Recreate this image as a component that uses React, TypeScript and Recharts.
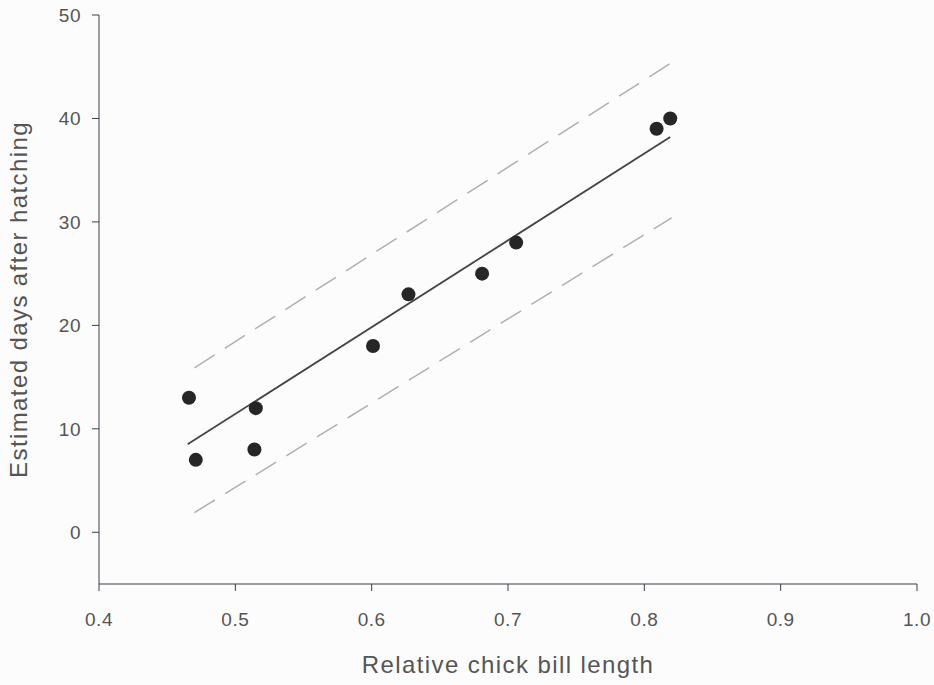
import React from "react";
import {
  ComposedChart, Scatter, Line, XAxis, YAxis,
} from "recharts";

// observed chicks
const billLength = [0.466, 0.471, 0.515, 0.514, 0.601, 0.627, 0.681, 0.706, 0.809, 0.819];
const daysAfterHatching = [13, 7, 12, 8, 18, 23, 25, 28, 39, 40];

// fitted line and prediction band ends
const fitX = [0.465, 0.819];
const fitY = [8.5, 38.2];
const upperY = [15.9, 45.4];
const lowerY = [1.9, 30.4];
const bandX = [0.470, 0.820];

const xTicks = [0.4, 0.5, 0.6, 0.7, 0.8, 0.9, 1.0];
const yTicks = [0, 10, 20, 30, 40, 50];

const points = billLength.map((x, i) => ({ x, y: daysAfterHatching[i] }));
const fitLine = fitX.map((x, i) => ({ x, y: fitY[i] }));
const upperLine = bandX.map((x, i) => ({ x, y: upperY[i] }));
const lowerLine = bandX.map((x, i) => ({ x, y: lowerY[i] }));

const AXIS = "#3c3c48";
const TEXT = "#555";
const FONT = "Liberation Sans, Arial, sans-serif";
const tickStyle = { fontSize: 19, fill: TEXT, fontFamily: FONT, letterSpacing: 0.5 };
const labelStyle = { fontSize: 24, fill: TEXT, fontFamily: FONT, letterSpacing: 1.4 };

const Dot = (props: any) => {
  const { cx, cy } = props;
  return <circle cx={cx} cy={cy} r={7} fill="#262626" />;
};

export default function App() {
  return (
    <div style={{ position: "absolute", left: 0, top: 0, width: 934, height: 685, background: "#fcfcfc" }}>
      <ComposedChart width={934} height={685} margin={{ top: 15, right: 17, bottom: 0, left: 0 }}>
        <XAxis
          type="number"
          dataKey="x"
          domain={[0.4, 1.0]}
          ticks={xTicks}
          tickFormatter={(v) => Number(v).toFixed(1)}
          tick={tickStyle}
          tickSize={7}
          tickMargin={22}
          height={101}
          stroke={AXIS}
          allowDataOverflow
          label={{ value: "Relative chick bill length", position: "insideBottom", offset: 12, style: labelStyle }}
        />
        <YAxis
          type="number"
          dataKey="y"
          domain={[-5, 50]}
          ticks={yTicks}
          tick={tickStyle}
          tickSize={7}
          tickMargin={11}
          width={99}
          stroke={AXIS}
          allowDataOverflow
          label={{ value: "Estimated days after hatching", angle: -90, position: "insideLeft", offset: 18, style: { ...labelStyle, textAnchor: "middle" } }}
        />
        <Line data={upperLine} dataKey="y" stroke="#b0b0b0" strokeWidth={1.5} strokeDasharray="24 12" dot={false} isAnimationActive={false} />
        <Line data={lowerLine} dataKey="y" stroke="#b0b0b0" strokeWidth={1.5} strokeDasharray="24 12" dot={false} isAnimationActive={false} />
        <Line data={fitLine} dataKey="y" stroke="#444" strokeWidth={1.8} dot={false} isAnimationActive={false} />
        <Scatter data={points} dataKey="y" shape={<Dot />} isAnimationActive={false} />
      </ComposedChart>
    </div>
  );
}
